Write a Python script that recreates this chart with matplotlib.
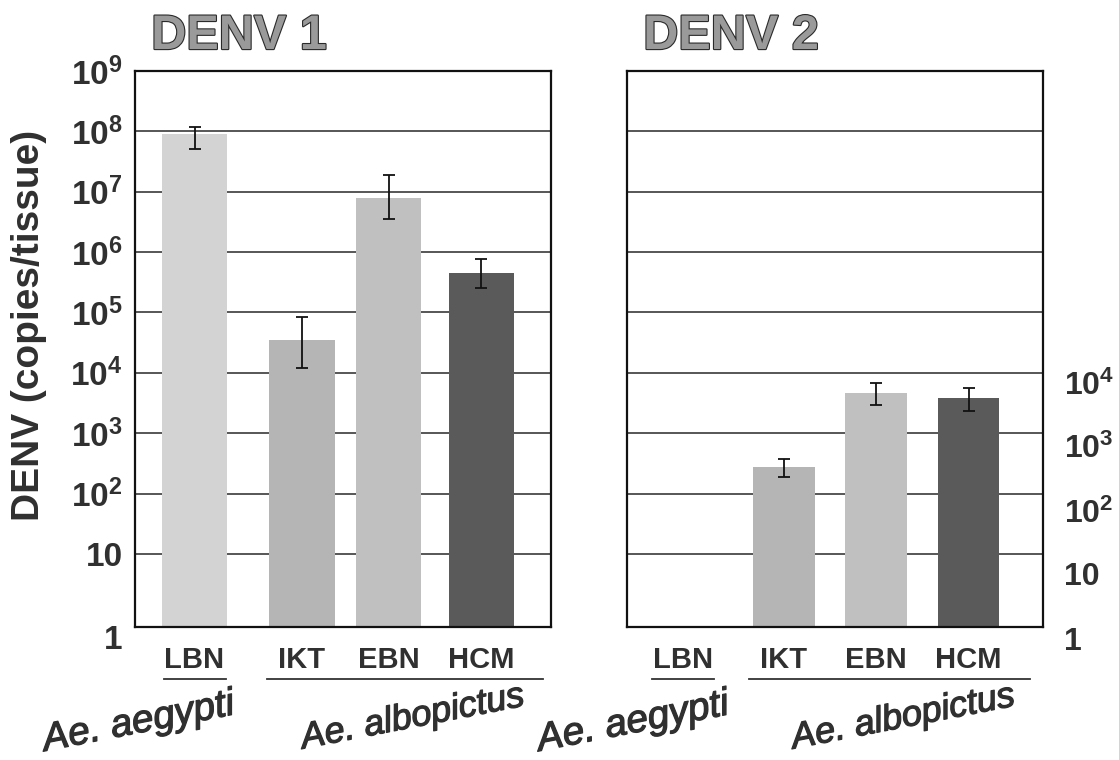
import numpy as np
import matplotlib
matplotlib.use("Agg")
import matplotlib.pyplot as plt
import matplotlib.patheffects as pe
from matplotlib.transforms import ScaledTranslation, blended_transform_factory

# ---------------- data ----------------
strains = ["LBN", "IKT", "EBN", "HCM"]
species_names = ["Ae. aegypti", "Ae. albopictus"]
species_members = [["LBN"], ["IKT", "EBN", "HCM"]]

denv1_mean = [8.9e7, 3.5e4, 7.9e6, 4.5e5]
denv1_low = [5.2e7, 1.2e4, 3.6e6, 2.5e5]
denv1_high = [1.2e8, 8.3e4, 1.9e7, 7.6e5]

denv2_mean = [np.nan, 2.75e2, 4.7e3, 3.9e3]
denv2_low = [np.nan, 1.86e2, 2.9e3, 2.3e3]
denv2_high = [np.nan, 3.8e2, 6.8e3, 5.6e3]

panel_titles = ["DENV 1", "DENV 2"]
y_label = "DENV (copies/tissue)"
left_tick_vals = [1e1, 1e2, 1e3, 1e4, 1e5, 1e6, 1e7, 1e8, 1e9]
left_tick_labels = ["10", r"$10^{2}$", r"$10^{3}$", r"$10^{4}$", r"$10^{5}$",
                    r"$10^{6}$", r"$10^{7}$", r"$10^{8}$", r"$10^{9}$"]
right_tick_vals = [1e1, 1e2, 1e3, 1e4]
right_tick_labels = ["10", r"$10^{2}$", r"$10^{3}$", r"$10^{4}$"]
grid_vals = [1e1, 1e2, 1e3, 1e4, 1e5, 1e6, 1e7, 1e8]

# ---------------- style ----------------
plt.rcParams["font.family"] = ["Liberation Sans", "DejaVu Sans"]
plt.rcParams["mathtext.fontset"] = "custom"
plt.rcParams["mathtext.rm"] = "Liberation Sans:bold"
plt.rcParams["mathtext.bf"] = "Liberation Sans:bold"
plt.rcParams["mathtext.it"] = "Liberation Sans:bold"
plt.rcParams["mathtext.default"] = "rm"

TXT = "#303030"
bar_colors = ["#d3d3d3", "#b5b5b5", "#c0c0c0", "#5a5a5a"]
ylow = 10 ** -0.21
W, H = 1119, 760
fig = plt.figure(figsize=(W / 100, H / 100), dpi=100)

def px_axes(x0, y0, x1, y1):
    return fig.add_axes([x0 / W, 1 - y1 / H, (x1 - x0) / W, (y1 - y0) / H])

axL = px_axes(135, 71, 551, 627)
axR = px_axes(627, 71, 1043, 627)

positions = [[0.595, 1.67, 2.535, 3.465], [0.56, 1.57, 2.49, 3.415]]
widths = [0.65, 0.62]
means = [denv1_mean, denv2_mean]
lows = [denv1_low, denv2_low]
highs = [denv1_high, denv2_high]
species_x_offsets = [[-0.56, 0.21], [-0.5, 0.27]]

def shift(label, dy_px):
    label.set_transform(label.get_transform() +
                        ScaledTranslation(0, -dy_px / 100, fig.dpi_scale_trans))

for i, ax in enumerate([axL, axR]):
    ax.set_yscale("log")
    ax.set_ylim(ylow, 1e9)
    ax.set_xlim(0, 4.16)
    for g in grid_vals:
        ax.axhline(g, color="#3a3a3a", lw=1.2, zorder=1)
    pos = np.array(positions[i])
    m = np.array(means[i], dtype=float)
    lo = np.array(lows[i], dtype=float)
    hi = np.array(highs[i], dtype=float)
    ok = ~np.isnan(m)
    ax.bar(pos[ok], m[ok] - ylow, bottom=ylow, width=widths[i],
           color=[bar_colors[k] for k in range(4) if ok[k]], zorder=2)
    ax.errorbar(pos[ok], m[ok], yerr=[m[ok] - lo[ok], hi[ok] - m[ok]],
                fmt="none", ecolor="#111111", elinewidth=1.3, capsize=4,
                capthick=1.3, zorder=3)
    for s in ax.spines.values():
        s.set_linewidth(1.6)
        s.set_color("#111111")
    ax.set_xticks(pos, strains)
    ax.tick_params(axis="x", length=0, pad=14, labelsize=21, labelcolor=TXT)
    for lab in ax.get_xticklabels():
        lab.set_fontweight("bold")
    ax.minorticks_off()

    # group underlines and species labels
    tr = blended_transform_factory(ax.transData, ax.transAxes)
    ax.plot([pos[0] - 0.31, pos[0] + 0.31], [-0.093, -0.093], transform=tr,
            color="#333333", lw=1.3, clip_on=False)
    ax.plot([pos[1] - 0.35, pos[3] + 0.61], [-0.093, -0.093], transform=tr,
            color="#333333", lw=1.3, clip_on=False)
    ax.text(pos[0] + species_x_offsets[i][0], -0.172, species_names[0],
            transform=tr, rotation=11, ha="center", va="center", fontsize=28,
            style="italic", color=TXT, rotation_mode="anchor",
            path_effects=[pe.withStroke(linewidth=0.9, foreground=TXT)])
    ax.text((pos[1] + pos[3]) / 2 + species_x_offsets[i][1], -0.163,
            species_names[1], transform=tr, rotation=11, ha="center",
            va="center", fontsize=26, style="italic", color=TXT,
            rotation_mode="anchor",
            path_effects=[pe.withStroke(linewidth=0.9, foreground=TXT)])

    # title
    ax.text(0.25, 1.062, panel_titles[i], transform=ax.transAxes, ha="center",
            va="center", fontsize=35, fontweight="bold", color="#9a9a9a",
            path_effects=[pe.withStroke(linewidth=1.6, foreground="#2a2a2a")])

# left axis labels
axL.set_yticks([ylow] + left_tick_vals, ["1"] + left_tick_labels)
axL.tick_params(axis="y", length=0, pad=9, labelsize=24, labelcolor=TXT)
for lab in axL.get_yticklabels():
    lab.set_fontweight("bold")
shift(axL.get_yticklabels()[0], 10)

# right panel labels on the right side
axR.yaxis.tick_right()
axR.set_yticks([ylow] + right_tick_vals, ["1"] + right_tick_labels)
axR.tick_params(axis="y", length=0, pad=15, labelsize=23, labelcolor=TXT)
for lab, d in zip(axR.get_yticklabels(), [11, 20, 17, 13, 10]):
    lab.set_fontweight("bold")
    shift(lab, d)
axR.minorticks_off()

fig.text(29 / W, 1 - 325 / H, y_label, rotation=90, ha="center", va="center",
         fontsize=28, fontweight="bold", color=TXT)

fig.savefig("out.png", dpi=100)
